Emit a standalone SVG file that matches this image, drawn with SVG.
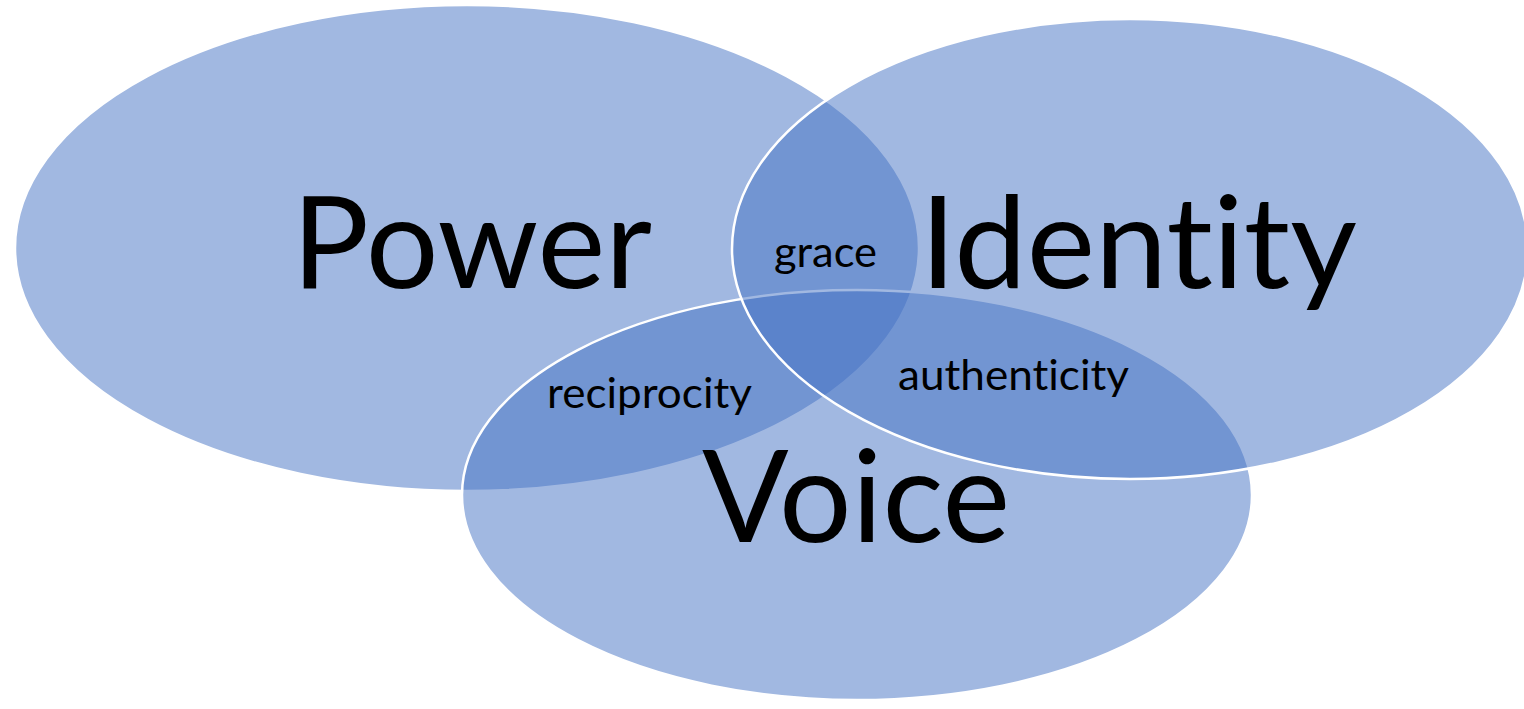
<svg xmlns="http://www.w3.org/2000/svg" width="1524" height="709" viewBox="0 0 1524 709">
<style>
.set{fill:#4472C4;fill-opacity:0.5;stroke:#ffffff;stroke-width:2.5}
.big{font-family:Lato,"Open Sans","Liberation Sans",sans-serif;font-size:128px;fill:#000;font-variant-ligatures:none}
.small{font-family:Lato,"Open Sans","Liberation Sans",sans-serif;font-size:42px;fill:#000;font-variant-ligatures:none}
</style>
<rect width="1524" height="709" fill="#ffffff"/>
<g id="power">
<ellipse class="set" cx="467" cy="248" rx="452" ry="243"/>
</g>
<g id="voice">
<ellipse class="set" cx="857" cy="495" rx="395" ry="205"/>
</g>
<g id="identity">
<ellipse class="set" cx="1130" cy="249" rx="398" ry="230"/>
</g>
<g id="labels">
<text class="big" x="292" y="288" textLength="360" lengthAdjust="spacingAndGlyphs">Power</text>
<text class="big" x="920" y="288" textLength="437" lengthAdjust="spacingAndGlyphs">Identity</text>
<text class="big" x="702" y="542" textLength="308" lengthAdjust="spacingAndGlyphs">Voice</text>
<text class="small" x="774" y="267" textLength="103" lengthAdjust="spacingAndGlyphs">grace</text>
<text class="small" x="547" y="408" textLength="205" lengthAdjust="spacingAndGlyphs">reciprocity</text>
<text class="small" x="898" y="390" textLength="231" lengthAdjust="spacingAndGlyphs">authenticity</text>
</g>
</svg>
